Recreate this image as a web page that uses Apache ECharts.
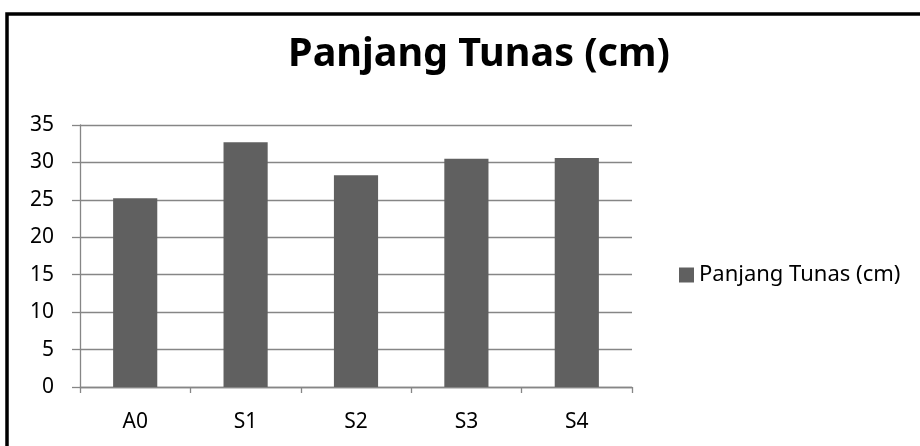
<!DOCTYPE html>
<html>
<head>
<meta charset="utf-8">
<script src="https://cdn.jsdelivr.net/npm/echarts@6/dist/echarts.min.js"></script>
<style>
html,body{margin:0;padding:0;background:#fff;}
#chart{width:920px;height:446px;}
</style>
</head>
<body>
<div id="chart"></div>
<script>
const titleText = 'Panjang Tunas (cm)';
const seriesName = 'Panjang Tunas (cm)';
const categories = ['A0', 'S1', 'S2', 'S3', 'S4'];
const values = [25.2, 32.7, 28.3, 30.5, 30.6];
const yTicks = [0, 5, 10, 15, 20, 25, 30, 35];

const FONT = 'Noto Sans';
const chart = echarts.init(document.getElementById('chart'), null, {renderer: 'canvas'});
chart.setOption({
  animation: false,
  backgroundColor: '#ffffff',
  title: {
    text: titleText,
    left: 474, top: 30, textAlign: 'center',
    textStyle: {fontFamily: FONT, fontWeight: 'bold', fontSize: 39.5, color: '#000'}
  },
  legend: {
    data: [seriesName],
    left: 674, top: 259,
    itemWidth: 15, itemHeight: 15, itemGap: 8,
    icon: 'rect',
    textStyle: {fontFamily: FONT, fontSize: 22, color: '#000'}
  },
  graphic: [{
    type: 'rect',
    shape: {x: 7, y: 14, width: 1000, height: 600},
    style: {fill: 'none', stroke: '#000', lineWidth: 3.5},
    silent: true
  }],
  grid: {left: 80, right: 288, top: 125, bottom: 59, containLabel: false},
  xAxis: {
    type: 'category',
    data: categories,
    axisLine: {lineStyle: {color: '#868686', width: 1.3}},
    axisTick: {show: true, alignWithLabel: false, length: 6, inside: false, lineStyle: {color: '#868686', width: 1.3}},
    axisLabel: {fontFamily: FONT, fontSize: 21, color: '#000', margin: 25}
  },
  yAxis: {
    type: 'value',
    min: yTicks[0], max: yTicks[yTicks.length - 1], interval: 5,
    axisLine: {show: true, lineStyle: {color: '#868686', width: 1.3}},
    axisTick: {show: true, length: 8, lineStyle: {color: '#868686', width: 1.3}},
    splitLine: {show: true, lineStyle: {color: '#868686', width: 1.3}},
    axisLabel: {fontFamily: FONT, fontSize: 21, color: '#000', margin: 26}
  },
  series: [{
    name: seriesName,
    type: 'bar',
    data: values,
    barWidth: '40%',
    itemStyle: {color: '#606060'}
  }]
});
</script>
</body>
</html>
